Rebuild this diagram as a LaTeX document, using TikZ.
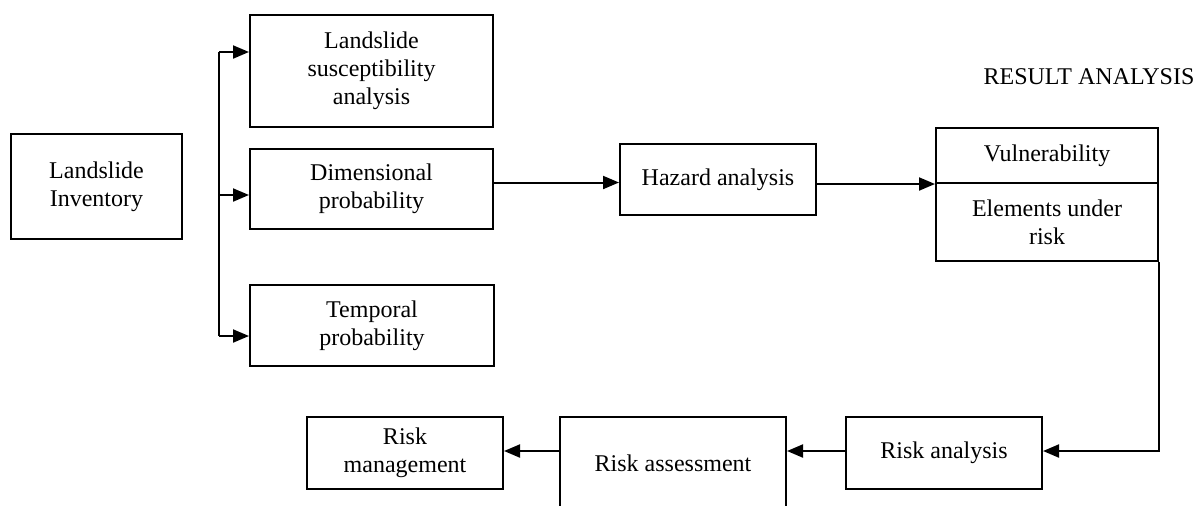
\documentclass[tikz,border=0pt]{standalone}
\usepackage{fontspec}
\setmainfont{Liberation Serif}
\usetikzlibrary{arrows.meta,calc}
\tikzset{
  x=0.5pt, y=-0.5pt,
  box/.style={draw, line width=1pt, rectangle, inner sep=0pt, align=center,
              font=\fontsize{12}{14}\selectfont},
  arr/.style={line width=1pt, -{Triangle[length=8pt,width=6.5pt]}},
  ln/.style={line width=1pt},
  lbl/.style={inner sep=0pt, font=\fontsize{12}{14}\selectfont}
}
\begin{document}
\begin{tikzpicture}
\useasboundingbox (0,0) rectangle (1202,505);
\clip (0,0) rectangle (1202,505);
\fill[white] (0,0) rectangle (1202,505);

\node[box, minimum width=171*0.5pt, minimum height=105*0.5pt] (inv) at (96.5,186.5) {Landslide\\Inventory};
\node[box, minimum width=243*0.5pt, minimum height=112*0.5pt] (sus) at (371.5,71) {Landslide\\susceptibility\\analysis};
\node[box, minimum width=243*0.5pt, minimum height=80*0.5pt] (dim) at (371.5,189) {Dimensional\\probability};
\node[box, minimum width=244*0.5pt, minimum height=81*0.5pt] (tem) at (372,325.5) {Temporal\\probability};
\node[box, minimum width=196*0.5pt, minimum height=71*0.5pt] (haz) at (718,179.5) {Hazard analysis};
\node[box, minimum width=222*0.5pt, minimum height=55*0.5pt] (vul) at (1047,155.5) {Vulnerability};
\node[box, minimum width=222*0.5pt, minimum height=78*0.5pt] (ele) at (1047,222) {Elements under\\risk};
\node[lbl] (res) at (1089,77) {RESULT ANALYSIS};
\node[box, minimum width=196*0.5pt, minimum height=72*0.5pt] (rm) at (405,453) {Risk\\management};
\node[box, minimum width=226*0.5pt, minimum height=92*0.5pt] (ras) at (673,463) {Risk assessment};
\node[box, minimum width=196*0.5pt, minimum height=72*0.5pt] (ran) at (944,453) {Risk analysis};

\coordinate (bartop) at (219,52);
\coordinate (barmid) at (219,195);
\coordinate (barbot) at (219,336);
\draw[ln] (bartop) -- (barbot);
\draw[arr] (bartop) -- (bartop -| sus.west);
\draw[arr] (barmid) -- (barmid -| dim.west);
\draw[arr] (barbot) -- (barbot -| tem.west);

\coordinate (hy) at (0,182.5);
\draw[arr] (hy -| dim.east) -- (hy -| haz.west);
\draw[arr] (haz.east |- vul.south west) -- (vul.south west);

\coordinate (ry) at (0,451);
\draw[arr] (ele.south east) -- (ele.south east |- ry) -- (ry -| ran.east);
\draw[arr] (ry -| ran.west) -- (ry -| ras.east);
\draw[arr] (ry -| ras.west) -- (ry -| rm.east);
\end{tikzpicture}
\end{document}
